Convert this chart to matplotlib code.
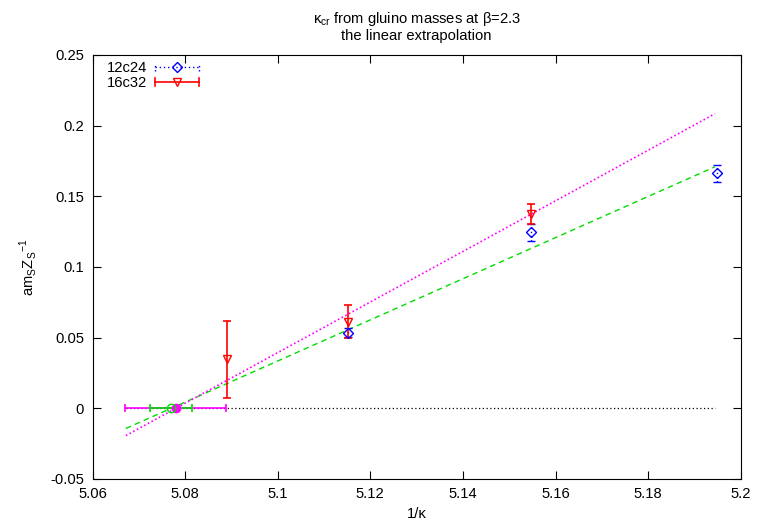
import matplotlib
matplotlib.use("Agg")
import matplotlib.pyplot as plt
from matplotlib.legend_handler import HandlerBase
from matplotlib.lines import Line2D
import numpy as np

plt.rcParams['font.family'] = ['Liberation Sans', 'DejaVu Sans']

# 12c24 data
x12 = [5.1151, 5.1546, 5.1948]
y12 = [0.0535, 0.1245, 0.1662]
e12 = [0.0030, 0.0060, 0.0058]
# 16c32 data
x16 = [5.0891, 5.1151, 5.1546]
y16 = [0.0348, 0.0613, 0.1375]
e16 = [0.0272, 0.0118, 0.0068]

# linear fits (zero crossing, slope)
fit_x0 = [5.0770, 5.0780]
fit_slope = [1.455, 1.790]
fit_range = [5.0672, 5.1944]
# extrapolated critical points and their errors
kc_x = [5.0770, 5.0780]
kc_err = [0.0045, 0.0109]

FS = 10.6


class ErrKeyHandler(HandlerBase):
    def __init__(self, color, marker, ls, lw, ms):
        super().__init__()
        self.color, self.marker, self.ls, self.lw, self.ms = color, marker, ls, lw, ms

    def create_artists(self, legend, orig_handle, xdescent, ydescent, width, height, fontsize, trans):
        y = height / 2 - ydescent
        x0, x1 = -xdescent, -xdescent + width
        c = 3
        arts = [
            Line2D([x0, x1], [y, y], color=self.color, linestyle=self.ls, linewidth=self.lw),
            Line2D([x0, x0], [y - c, y + c], color=self.color, linestyle=self.ls, linewidth=self.lw),
            Line2D([x1, x1], [y - c, y + c], color=self.color, linestyle=self.ls, linewidth=self.lw),
            Line2D([(x0 + x1) / 2], [y], marker=self.marker, color=self.color, mfc='none',
                   markersize=self.ms, linestyle='none'),
        ]
        for a in arts:
            a.set_transform(trans)
        return arts


fig = plt.figure(figsize=(7.57, 5.31), dpi=100)
ax = fig.add_axes([0.1222, 0.098, 0.8563, 0.7985])

xs = np.array(fit_range)
ax.plot(xs, [0, 0], color='black', linestyle=(0, (1, 2)), linewidth=0.9, zorder=1)
ax.plot(xs, fit_slope[0] * (xs - fit_x0[0]), color='#00dd00', linestyle=(0, (4, 3)), linewidth=1.0, zorder=2)
ax.plot(xs, fit_slope[1] * (xs - fit_x0[1]), color='#ff00ff', linestyle=(0, (1, 1.5)), linewidth=1.2, zorder=2)

# horizontal error bars at y=0
ax.errorbar([kc_x[1]], [0], xerr=[kc_err[1]], fmt='o', color='#ff00ff', markersize=6,
            capsize=3, elinewidth=1.2, capthick=1.2, zorder=3)
ax.errorbar([kc_x[0]], [0], xerr=[kc_err[0]], fmt='o', color='#00dd00', mfc='none', markersize=6,
            capsize=3, elinewidth=1.2, capthick=1.2, zorder=3)

eb1 = ax.errorbar(x12, y12, yerr=e12, fmt='D', linestyle='none', color='#0000ff', mfc='none',
                  markersize=5, capsize=3, elinewidth=1.0, capthick=1.0, zorder=4)
for lc in eb1[2]:
    lc.set_linestyle((0, (1, 2)))

eb2 = ax.errorbar(x16, y16, yerr=e16, fmt='v', linestyle='none', color='#ff0000', mfc='none',
                  markersize=6, capsize=3, elinewidth=1.2, capthick=1.2, zorder=4)

h1 = Line2D([], [])
h2 = Line2D([], [])
ax.legend([h1, h2], ['12c24', '16c32'], loc='upper left', frameon=False, markerfirst=False,
          fontsize=FS, handlelength=3.0, borderaxespad=0.0, handletextpad=0.55, labelspacing=0.05,
          borderpad=0.0, bbox_to_anchor=(0.022, 0.985),
          handler_map={h1: ErrKeyHandler('#0000ff', 'D', (0, (1, 2)), 1.0, 5),
                       h2: ErrKeyHandler('#ff0000', 'v', '-', 1.2, 6)})

ax.set_xlim(5.06, 5.2)
ax.set_ylim(-0.05, 0.25)
ax.set_xticks([5.06, 5.08, 5.1, 5.12, 5.14, 5.16, 5.18, 5.2])
ax.set_xticklabels(['5.06', '5.08', '5.1', '5.12', '5.14', '5.16', '5.18', '5.2'])
ax.set_yticks([-0.05, 0, 0.05, 0.1, 0.15, 0.2, 0.25])
ax.set_yticklabels(['-0.05', '0', '0.05', '0.1', '0.15', '0.2', '0.25'])
ax.tick_params(direction='in', top=True, right=True, length=6, labelsize=FS, pad=6)

ax.set_xlabel('1/κ', fontsize=FS, labelpad=4)
ax.set_ylabel(r'am$_\mathregular{S}$Z$_\mathregular{S}$$^\mathregular{-1}$', fontsize=FS, labelpad=8)
ax.set_title(r'κ$_\mathregular{cr}$ from gluino masses at β=2.3' + '\nthe linear extrapolation',
             fontsize=FS, pad=11, linespacing=1.05)

fig.savefig('out.png', dpi=100)
